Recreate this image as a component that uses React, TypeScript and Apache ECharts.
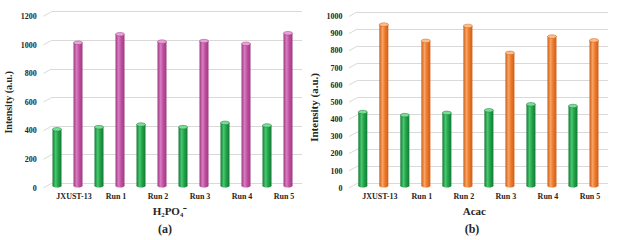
import React, { useEffect, useRef } from "react";
import * as echarts from "echarts";

const categories = ["JXUST-13", "Run 1", "Run 2", "Run 3", "Run 4", "Run 5"];
const greenA = [395, 410, 428, 410, 440, 422];
const pinkA = [1000, 1060, 1008, 1012, 993, 1067];
const greenB = [430, 412, 425, 440, 475, 465];
const orangeB = [940, 845, 932, 775, 870, 848];
const ticksA = [0, 200, 400, 600, 800, 1000, 1200];
const ticksB = [0, 100, 200, 300, 400, 500, 600, 700, 800, 900, 1000];

const FONT = "'Liberation Serif', 'Times New Roman', serif";
const GREEN = { dark: "#137a36", mid: "#24a64b", light: "#48c96e", top: "#7bdc97" };
const PINK = { dark: "#9c3a80", mid: "#c251a3", light: "#da7cc2", top: "#e8a3d6" };
const ORANGE = { dark: "#cf5d18", mid: "#ee7b2c", light: "#f8a463", top: "#fbbf8e" };

function cylinder(offset: number, c: any) {
  return (params: any, api: any) => {
    const idx = api.value(0);
    const v = api.value(1);
    const band = api.size([1, 0])[0];
    const base = api.coord([idx, 0]);
    const top = api.coord([idx, v]);
    const cx = base[0] + offset * band;
    const w = 9;
    const ry = 1.8;
    const grad = new echarts.graphic.LinearGradient(0, 0, 1, 0, [
      { offset: 0, color: c.dark },
      { offset: 0.35, color: c.light },
      { offset: 0.6, color: c.mid },
      { offset: 1, color: c.dark },
    ]);
    return {
      type: "group",
      children: [
        { type: "ellipse", shape: { cx, cy: base[1], rx: w / 2, ry }, style: { fill: grad } },
        { type: "rect", shape: { x: cx - w / 2, y: top[1], width: w, height: base[1] - top[1] }, style: { fill: grad } },
        { type: "ellipse", shape: { cx, cy: top[1], rx: w / 2, ry }, style: { fill: c.top, stroke: c.dark, lineWidth: 0.5 } },
      ],
    };
  };
}

function diagonal(params: any, api: any) {
  const p = api.coord([0, api.value(1)]);
  return {
    type: "line",
    shape: { x1: p[0] - 8.4, y1: p[1] + 4.6, x2: p[0], y2: p[1] },
    style: { stroke: "#d9d9d9", lineWidth: 1 },
  };
}

export default function App() {
  const ref = useRef<HTMLDivElement>(null);
  useEffect(() => {
    const chart = echarts.init(ref.current!, null, { renderer: "svg" });
    const tickLabel = { fontFamily: FONT, fontWeight: "bold", fontSize: 8, color: "#262626" };
    const catLabel = { ...tickLabel, margin: 7, padding: [0, 0, 0, 13], interval: 0 };
    const nameStyle = { fontFamily: FONT, fontWeight: "bold", fontSize: 11, color: "#262626" };
    const panels = [
      { mid: { left: 46.5, top: 14.2, width: 252, height: 171.6 }, back: { left: 51.7, top: 11.7, width: 250.3, height: 171.6 }, front: { left: 43.3, top: 16.4, width: 250, height: 171.8 }, max: 1200, interval: 200, ticks: ticksA, xname: "H₂PO₄⁻", namePad: [0, 5, 0, 0], yPad: [0, 0, 0, 0], ySize: 10 },
      { mid: { left: 352.3, top: 14.3, width: 252.2, height: 171.5 }, back: { left: 357.5, top: 11.8, width: 250.5, height: 171.5 }, front: { left: 349.1, top: 16.6, width: 250, height: 171.6 }, max: 1000, interval: 100, ticks: ticksB, xname: "Acac", namePad: [0, 8, 0, 0], yPad: [0, 10, 0, 0], ySize: 11 },
    ];
    const grid: any[] = [];
    const xAxis: any[] = [];
    const yAxis: any[] = [];
    panels.forEach((p, i) => {
      const g = i * 3;
      grid.push(p.mid, p.back, p.front);
      xAxis.push(
        { gridIndex: g, type: "category", data: categories, axisLine: { show: false }, axisTick: { show: false }, axisLabel: catLabel, name: p.xname, nameLocation: "middle", nameGap: 20, nameTextStyle: { ...nameStyle, padding: p.namePad } },
        { gridIndex: g + 1, type: "value", min: 0, max: 1, show: false },
        { gridIndex: g + 2, type: "value", min: 0, max: 1, show: false }
      );
      yAxis.push(
        { gridIndex: g, type: "value", min: 0, max: p.max, show: false },
        { gridIndex: g + 1, type: "value", min: 0, max: p.max, interval: p.interval, axisLabel: { show: false }, axisLine: { show: false }, axisTick: { show: false }, splitLine: { show: true, lineStyle: { color: "#d9d9d9", width: 1 } } },
        { gridIndex: g + 2, type: "value", min: 0, max: p.max, interval: p.interval, axisLabel: { ...tickLabel, margin: 6.5, formatter: (v: number) => String(v) }, axisLine: { show: false }, axisTick: { show: false }, splitLine: { show: false }, name: "Intensity (a.u.)", nameLocation: "middle", nameRotate: 90, nameGap: 30, nameTextStyle: { ...nameStyle, fontSize: p.ySize, padding: p.yPad } }
      );
    });
    const series: any[] = [
      { type: "custom", xAxisIndex: 1, yAxisIndex: 1, data: ticksA.map((v) => [0, v]), renderItem: diagonal, silent: true, z: 1 },
      { type: "custom", xAxisIndex: 4, yAxisIndex: 4, data: ticksB.map((v) => [0, v]), renderItem: diagonal, silent: true, z: 1 },
      { type: "custom", name: "green", xAxisIndex: 0, yAxisIndex: 0, data: greenA.map((v, i) => [i, v]), renderItem: cylinder(-0.25, GREEN), z: 3 },
      { type: "custom", name: "H2PO4", xAxisIndex: 0, yAxisIndex: 0, data: pinkA.map((v, i) => [i, v]), renderItem: cylinder(0.25, PINK), z: 3 },
      { type: "custom", name: "green", xAxisIndex: 3, yAxisIndex: 3, data: greenB.map((v, i) => [i, v]), renderItem: cylinder(-0.25, GREEN), z: 3 },
      { type: "custom", name: "Acac", xAxisIndex: 3, yAxisIndex: 3, data: orangeB.map((v, i) => [i, v]), renderItem: cylinder(0.25, ORANGE), z: 3 },
    ];
    chart.setOption({
      animation: false,
      backgroundColor: "#ffffff",
      grid,
      xAxis,
      yAxis,
      series,
      graphic: [
        { type: "text", x: 165, y: 229, style: { text: "(a)", align: "center", verticalAlign: "middle", font: `bold 12px ${FONT}`, fill: "#262626" } },
        { type: "text", x: 472, y: 229, style: { text: "(b)", align: "center", verticalAlign: "middle", font: `bold 12px ${FONT}`, fill: "#262626" } },
      ],
    });
    return () => chart.dispose();
  }, []);
  return <div ref={ref} style={{ position: "fixed", left: 0, top: 0, width: 624, height: 240 }} />;
}
